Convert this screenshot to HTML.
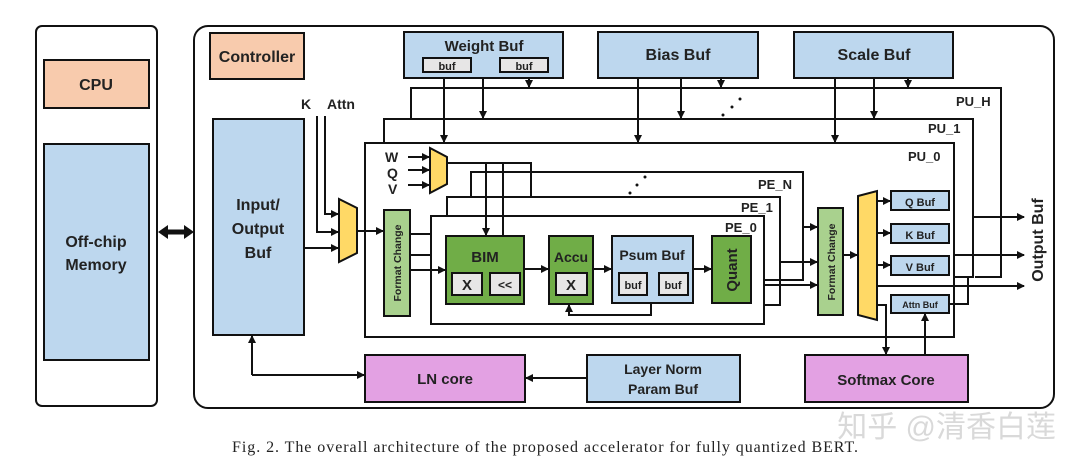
<!DOCTYPE html>
<html><head><meta charset="utf-8"><style>
html,body{margin:0;padding:0;background:#fff;}
svg{display:block;}
text{font-family:"Liberation Sans",sans-serif;font-weight:bold;fill:#222;}
</style></head><body>
<svg width="1080" height="468" viewBox="0 0 1080 468" xmlns="http://www.w3.org/2000/svg">
<defs>
<marker id="a" markerWidth="8" markerHeight="8" refX="7" refY="4" orient="auto" markerUnits="userSpaceOnUse"><path d="M0,0 L8,4 L0,8 z" fill="#111"/></marker>
</defs>
<g stroke="#111" stroke-width="2" fill="none">
<rect x="36" y="26" width="121" height="380" rx="6" fill="#fff"/>
<rect x="44" y="60" width="105" height="48" fill="#f8cbad"/>
<rect x="44" y="144" width="105" height="216" fill="#bdd7ee"/>
<rect x="194" y="26" width="860" height="382" rx="14" fill="#fff"/>
<rect x="210" y="33" width="94" height="46" fill="#f8cbad"/>
<rect x="404" y="32" width="159" height="46" fill="#bdd7ee"/>
<rect x="423" y="58" width="48" height="14" fill="#e7e6e6"/>
<rect x="500" y="58" width="48" height="14" fill="#e7e6e6"/>
<rect x="598" y="32" width="160" height="46" fill="#bdd7ee"/>
<rect x="794" y="32" width="159" height="46" fill="#bdd7ee"/>
<rect x="213" y="119" width="91" height="216" fill="#bdd7ee"/>
<polyline points="411,119 411,88 1001,88 1001,277 975,277"/>
<polyline points="384,143 384,119 973,119 973,277 954,277"/>
<rect x="365" y="143" width="589" height="194"/>
<polyline points="471,197 471,172 803,172 803,280 765,280"/>
<polyline points="447,216 447,197 780,197 780,305 765,305"/>
<rect x="431" y="216" width="333" height="108"/>
<line x1="444" y1="78" x2="444" y2="142" marker-end="url(#a)"/>
<line x1="483" y1="78" x2="483" y2="118" marker-end="url(#a)"/>
<line x1="529" y1="78" x2="529" y2="87" marker-end="url(#a)"/>
<line x1="638" y1="78" x2="638" y2="142" marker-end="url(#a)"/>
<line x1="681" y1="78" x2="681" y2="118" marker-end="url(#a)"/>
<line x1="721" y1="78" x2="721" y2="87" marker-end="url(#a)"/>
<line x1="835" y1="78" x2="835" y2="142" marker-end="url(#a)"/>
<line x1="874" y1="78" x2="874" y2="118" marker-end="url(#a)"/>
<line x1="908" y1="78" x2="908" y2="87" marker-end="url(#a)"/>
<polyline points="447,163 531,163 531,197"/>
<line x1="486" y1="163" x2="486" y2="235" marker-end="url(#a)"/>
<line x1="503" y1="163" x2="503" y2="236"/>
<line x1="408" y1="157" x2="429" y2="157" marker-end="url(#a)"/>
<line x1="408" y1="170" x2="429" y2="170" marker-end="url(#a)"/>
<line x1="408" y1="185" x2="429" y2="185" marker-end="url(#a)"/>
<polyline points="317,116 317,232 338,232" />
<line x1="330" y1="232" x2="338" y2="232" marker-end="url(#a)"/>
<polyline points="325,116 325,214 338,214"/>
<line x1="330" y1="214" x2="338" y2="214" marker-end="url(#a)"/>
<line x1="304" y1="248" x2="338" y2="248" marker-end="url(#a)"/>
<line x1="357" y1="231" x2="383" y2="231" marker-end="url(#a)"/>
<line x1="410" y1="234" x2="431" y2="234"/>
<line x1="410" y1="255" x2="431" y2="255"/>
<line x1="410" y1="270" x2="445" y2="270" marker-end="url(#a)"/>
<line x1="524" y1="269" x2="548" y2="269" marker-end="url(#a)"/>
<line x1="593" y1="269" x2="611" y2="269" marker-end="url(#a)"/>
<line x1="693" y1="269" x2="711" y2="269" marker-end="url(#a)"/>
<polyline points="651,303 651,315 569,315 569,305"/>
<line x1="569" y1="310" x2="569" y2="305" marker-end="url(#a)"/>
<line x1="765" y1="285" x2="817" y2="285" marker-end="url(#a)"/>
<line x1="780" y1="262" x2="817" y2="262" marker-end="url(#a)"/>
<line x1="803" y1="227" x2="817" y2="227" marker-end="url(#a)"/>
<line x1="843" y1="255" x2="857" y2="255" marker-end="url(#a)"/>
<line x1="877" y1="201" x2="890" y2="201" marker-end="url(#a)"/>
<line x1="877" y1="233" x2="890" y2="233" marker-end="url(#a)"/>
<line x1="877" y1="265" x2="890" y2="265" marker-end="url(#a)"/>
<line x1="877" y1="286" x2="1024" y2="286" marker-end="url(#a)"/>
<line x1="973" y1="217" x2="1024" y2="217" marker-end="url(#a)"/>
<line x1="954" y1="255" x2="1024" y2="255" marker-end="url(#a)"/>
<polyline points="949,304 968,304 968,277"/>
<polyline points="877,305 886,305 886,354"/>
<line x1="886" y1="340" x2="886" y2="354" marker-end="url(#a)"/>
<line x1="925" y1="355" x2="925" y2="314" marker-end="url(#a)"/>
<line x1="252" y1="375" x2="252" y2="336" marker-end="url(#a)"/>
<line x1="252" y1="375" x2="364" y2="375" marker-end="url(#a)"/>
<line x1="587" y1="378" x2="526" y2="378" marker-end="url(#a)"/>
<polygon points="430,148 447,157 447,184 430,193" fill="#ffd966"/>
<polygon points="339,199 357,208 357,253 339,262" fill="#ffd966"/>
<rect x="384" y="210" width="26" height="106" fill="#a9d18e"/>
<rect x="446" y="236" width="78" height="68" fill="#70ad47"/>
<rect x="452" y="273" width="30" height="22" fill="#e7e6e6"/>
<rect x="490" y="273" width="30" height="22" fill="#e7e6e6"/>
<rect x="549" y="236" width="44" height="68" fill="#70ad47"/>
<rect x="556" y="273" width="31" height="22" fill="#e7e6e6"/>
<rect x="612" y="236" width="81" height="67" fill="#bdd7ee"/>
<rect x="619" y="273" width="28" height="22" fill="#e7e6e6"/>
<rect x="659" y="273" width="29" height="22" fill="#e7e6e6"/>
<rect x="712" y="236" width="39" height="67" fill="#70ad47"/>
<rect x="818" y="208" width="25" height="107" fill="#a9d18e"/>
<polygon points="858,196 877,191 877,320 858,315" fill="#ffd966"/>
<rect x="891" y="191" width="58" height="19" fill="#bdd7ee"/>
<rect x="891" y="224" width="58" height="19" fill="#bdd7ee"/>
<rect x="891" y="256" width="58" height="19" fill="#bdd7ee"/>
<rect x="891" y="295" width="58" height="18" fill="#bdd7ee"/>
<rect x="365" y="355" width="160" height="47" fill="#e3a1e3"/>
<rect x="587" y="355" width="153" height="47" fill="#bdd7ee"/>
<rect x="805" y="355" width="163" height="47" fill="#e3a1e3"/>
<line x1="166" y1="232" x2="186" y2="232" stroke-width="5"/>
</g>
<polygon points="158,232 168,225 168,239" fill="#111"/>
<polygon points="194,232 184,225 184,239" fill="#111"/>
<g fill="#111"><circle cx="723" cy="115" r="1.5"/><circle cx="732" cy="107" r="1.5"/><circle cx="740" cy="99" r="1.5"/>
<circle cx="630" cy="193" r="1.5"/><circle cx="637" cy="185" r="1.5"/><circle cx="645" cy="177" r="1.5"/></g>
<text x="96" y="90" font-size="16" text-anchor="middle">CPU</text>
<text x="96" y="247" font-size="16" text-anchor="middle">Off-chip</text>
<text x="96" y="270" font-size="16" text-anchor="middle">Memory</text>
<text x="257" y="62" font-size="16" text-anchor="middle">Controller</text>
<text x="484" y="51" font-size="15" text-anchor="middle">Weight  Buf</text>
<text x="447" y="70" font-size="11" text-anchor="middle" font-weight="normal">buf</text>
<text x="524" y="70" font-size="11" text-anchor="middle" font-weight="normal">buf</text>
<text x="678" y="60" font-size="16" text-anchor="middle">Bias  Buf</text>
<text x="874" y="60" font-size="16" text-anchor="middle">Scale  Buf</text>
<text x="258" y="210" font-size="16" text-anchor="middle">Input/</text>
<text x="258" y="234" font-size="16" text-anchor="middle">Output</text>
<text x="258" y="258" font-size="16" text-anchor="middle">Buf</text>
<text x="301" y="109" font-size="14">K</text>
<text x="327" y="109" font-size="14">Attn</text>
<text x="385" y="162" font-size="14">W</text>
<text x="387" y="178" font-size="14">Q</text>
<text x="388" y="194" font-size="14">V</text>
<text x="956" y="106" font-size="13">PU_H</text>
<text x="928" y="133" font-size="13">PU_1</text>
<text x="908" y="161" font-size="13">PU_0</text>
<text x="758" y="189" font-size="13">PE_N</text>
<text x="741" y="212" font-size="13">PE_1</text>
<text x="725" y="232" font-size="13">PE_0</text>
<text x="485" y="262" font-size="15" text-anchor="middle">BIM</text>
<text x="467" y="290" font-size="15" text-anchor="middle">X</text>
<text x="505" y="289" font-size="12" text-anchor="middle">&lt;&lt;</text>
<text x="571" y="262" font-size="14" text-anchor="middle">Accu</text>
<text x="571" y="290" font-size="15" text-anchor="middle">X</text>
<text x="652" y="260" font-size="14" text-anchor="middle">Psum Buf</text>
<text x="633" y="289" font-size="11" text-anchor="middle" font-weight="normal">buf</text>
<text x="673" y="289" font-size="11" text-anchor="middle" font-weight="normal">buf</text>
<text transform="translate(737,270) rotate(-90)" font-size="15" text-anchor="middle">Quant</text>
<text transform="translate(401,263) rotate(-90)" font-size="10.5" text-anchor="middle">Format Change</text>
<text transform="translate(835,262) rotate(-90)" font-size="10.5" text-anchor="middle">Format Change</text>
<text x="920" y="206" font-size="11" text-anchor="middle">Q Buf</text>
<text x="920" y="239" font-size="11" text-anchor="middle">K Buf</text>
<text x="920" y="271" font-size="11" text-anchor="middle">V Buf</text>
<text x="920" y="308" font-size="9" text-anchor="middle">Attn Buf</text>
<text transform="translate(1043,240) rotate(-90)" font-size="16" text-anchor="middle">Output Buf</text>
<text x="445" y="384" font-size="15" text-anchor="middle">LN core</text>
<text x="663" y="374" font-size="14" text-anchor="middle">Layer Norm</text>
<text x="663" y="394" font-size="14" text-anchor="middle">Param Buf</text>
<text x="886" y="385" font-size="15" text-anchor="middle">Softmax Core</text>
<text x="1056" y="437" font-size="30" text-anchor="end" style="font-family:'Liberation Sans','Noto Sans CJK SC',sans-serif;font-weight:normal;fill:#d9d9d9">知乎 @清香白莲</text>
<text x="545" y="452" font-size="16" text-anchor="middle" textLength="626" style="font-family:'Liberation Serif',serif;font-weight:normal;fill:#222">Fig. 2.  The overall architecture of the proposed accelerator for fully quantized BERT.</text>
</svg>
</body></html>
